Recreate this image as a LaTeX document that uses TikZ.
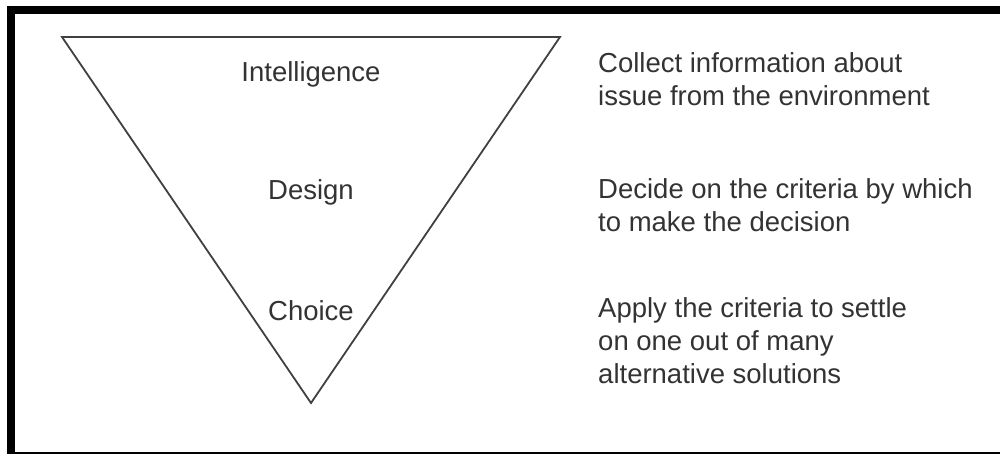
\documentclass[tikz,border=0pt]{standalone}
\usepackage{fontspec}
\setmainfont{Liberation Sans}
\usepackage{tikz}
\usetikzlibrary{positioning}

\begin{document}
\begin{tikzpicture}[
  x=1pt, y=-1pt,
  font=\fontsize{27.5}{33}\selectfont,
  every node/.style={text=black!80, inner sep=0pt},
  stage/.style={anchor=base},
  note/.style={anchor=base west, align=left},
  funnel/.style={draw=black!75, line width=1.8pt, line join=miter}
]
\useasboundingbox (0,0) rectangle (1000,454);
\clip (0,0) rectangle (1000,454);
% Frame
\draw[line width=8pt] (11,10) rectangle (1006,456);

% Funnel
\coordinate (tl) at (62,37);
\coordinate (tr) at (560,37);
\coordinate (tip) at (311,403);
\draw[funnel] (tl) -- (tr) -- (tip) -- cycle;

% Stages
\node[stage] (intel)  at (311,82)  {Intelligence};
\node[stage] (design) at (311,200) {Design};
\node[stage] (choice) at (311,320) {Choice};

% Notes (base = last line)
\node[note] (n1) at (598,106) {Collect information about\\issue from the environment};
\node[note] (n2) at (598,232) {Decide on the criteria by which\\to make the decision};
\node[note] (n3) at (598,383) {Apply the criteria to settle\\on one out of many\\alternative solutions};
\end{tikzpicture}
\end{document}
